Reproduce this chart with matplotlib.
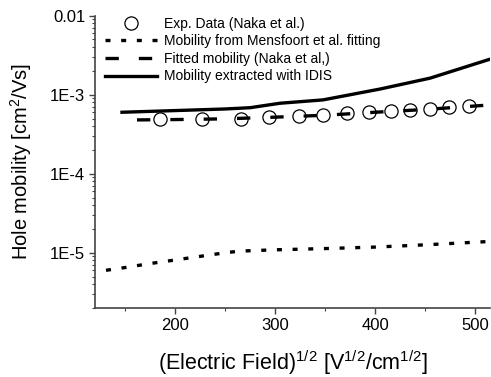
import matplotlib
matplotlib.use("Agg")
import matplotlib.pyplot as plt
from matplotlib.ticker import FixedLocator, FixedFormatter, MultipleLocator, LogLocator, NullFormatter

plt.rcParams['font.family'] = ['Liberation Sans', 'DejaVu Sans']
plt.rcParams['mathtext.fontset'] = 'custom'
plt.rcParams['mathtext.rm'] = 'Liberation Sans'
plt.rcParams['mathtext.it'] = 'Liberation Sans:italic'
plt.rcParams['mathtext.bf'] = 'Liberation Sans:bold'

# Experimental data (Naka et al.)
exp_x = [185, 227, 266, 294, 324, 348, 372, 394, 416, 435, 455, 474, 494]
exp_y = [4.9e-4, 4.9e-4, 5.0e-4, 5.2e-4, 5.4e-4, 5.5e-4, 5.8e-4, 6.0e-4, 6.2e-4, 6.4e-4, 6.6e-4, 6.9e-4, 7.2e-4]

# Mobility from Mensfoort et al. fitting
mens_x = [131, 150, 175, 200, 225, 250, 265, 300, 350, 400, 450, 500, 520]
mens_y = [6.0e-6, 6.5e-6, 7.3e-6, 8.1e-6, 9.0e-6, 1.0e-5, 1.05e-5, 1.09e-5, 1.13e-5, 1.18e-5, 1.26e-5, 1.36e-5, 1.4e-5]

# Fitted mobility (Naka et al.)
fit_x = [162, 200, 250, 300, 350, 400, 450, 520]
fit_y = [4.8e-4, 4.85e-4, 4.95e-4, 5.2e-4, 5.5e-4, 6.0e-4, 6.5e-4, 7.5e-4]

# Mobility extracted with IDIS
idis_x = [147, 200, 250, 275, 305, 348, 405, 455, 520]
idis_y = [6.0e-4, 6.3e-4, 6.6e-4, 6.85e-4, 7.8e-4, 8.6e-4, 1.18e-3, 1.62e-3, 2.95e-3]

ytick_vals = [1e-5, 1e-4, 1e-3, 1e-2]
ytick_labels = ['1E-5', '1E-4', '1E-3', '0.01']
xtick_vals = [200, 300, 400, 500]

fig = plt.figure(figsize=(4.91, 3.77), dpi=100)
ax = fig.add_axes([95/491, 1-308/377, 395/491, (308-15.7)/377])

ax.plot(exp_x, exp_y, linestyle='none', marker='o', markersize=9.5, markerfacecolor='none',
        markeredgecolor='black', markeredgewidth=0.9, label='Exp. Data (Naka et al.)')
ax.plot(mens_x, mens_y, color='black', lw=2.4, linestyle=(0, (1.5, 3.2)),
        label='Mobility from Mensfoort et al. fitting')
ax.plot(fit_x, fit_y, color='black', lw=2.4, linestyle=(0, (4, 6)),
        label='Fitted mobility (Naka et al,)')
ax.plot(idis_x, idis_y, color='black', lw=2.4, linestyle='-',
        label='Mobility extracted with IDIS')

ax.set_yscale('log')
ax.set_xlim(120, 515)
ax.set_ylim(2.0e-6, 1e-2)

ax.yaxis.set_major_locator(FixedLocator(ytick_vals))
ax.yaxis.set_major_formatter(FixedFormatter(ytick_labels))
ax.yaxis.set_minor_locator(LogLocator(base=10, subs=range(2, 10)))
ax.yaxis.set_minor_formatter(NullFormatter())
ax.xaxis.set_major_locator(FixedLocator(xtick_vals))
ax.xaxis.set_minor_locator(MultipleLocator(50))

spine_color = '#444444'
for s in ['top', 'right']:
    ax.spines[s].set_visible(False)
for s in ['left', 'bottom']:
    ax.spines[s].set_color(spine_color)
    ax.spines[s].set_linewidth(1.2)
ax.tick_params(which='major', direction='out', length=4, width=1.0, color=spine_color,
               labelsize=12, pad=3)
ax.tick_params(which='minor', direction='out', length=2.5, width=0.8, color=spine_color)

ax.set_xlabel(r'(Electric Field)$^{1/2}$ [V$^{1/2}$/cm$^{1/2}$]', fontsize=15.5, labelpad=11)
ax.set_ylabel(r'Hole mobility [cm$^{2}$/Vs]', fontsize=14.5)
ax.yaxis.set_label_coords(-0.155, 0.5)

leg = ax.legend(loc='upper left', bbox_to_anchor=(0.0, 1.03), frameon=False, fontsize=10,
                handlelength=3.75, handletextpad=0.55, labelspacing=0.26, borderaxespad=0.3)

fig.savefig('out.png', dpi=100)
